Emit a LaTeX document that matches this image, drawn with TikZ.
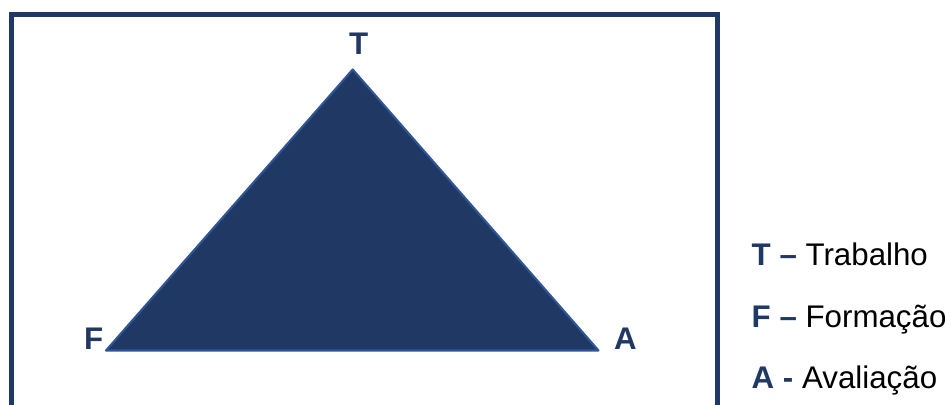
\documentclass[tikz,border=0pt]{standalone}
\usepackage{fontspec}
\setmainfont{Liberation Sans}
\definecolor{navy}{HTML}{203864}
\definecolor{edgeblue}{HTML}{2F5597}

\begin{document}
\begin{tikzpicture}[line cap=round,line join=round,every node/.style={inner sep=0pt},
    lbl/.style={anchor=base west,text=navy,font=\fontsize{8.9pt}{10pt}\selectfont\bfseries},
    legend/.style={anchor=base west,font=\fontsize{8.9pt}{10pt}\selectfont}]
  \useasboundingbox (0,0) rectangle (9.51,4.04);
  \draw[navy,line width=1.3pt,line cap=butt,line join=miter] (0.117,-0.1) -- (0.117,3.895) -- (7.175,3.895) -- (7.175,-0.1);
  \coordinate (t) at (3.527,3.345);
  \coordinate (f) at (1.06,0.535);
  \coordinate (a) at (5.985,0.535);
  \filldraw[fill=navy,draw=edgeblue,line width=0.6pt] (f) -- (t) -- (a) -- cycle;
  \node[lbl] (labT) at (3.485,3.493) {T};
  \node[lbl] (labF) at (0.835,0.55) {F};
  \node[lbl] (labA) at (6.135,0.55) {A};
  \node[legend] (legT) at (7.51,1.39) {\textcolor{navy}{\bfseries T –} Trabalho};
  \node[legend] (legF) at (7.51,0.77) {\textcolor{navy}{\bfseries F –} Formação};
  \node[legend] (legA) at (7.51,0.16) {\textcolor{navy}{\bfseries A -} Avaliação};
\end{tikzpicture}
\end{document}
